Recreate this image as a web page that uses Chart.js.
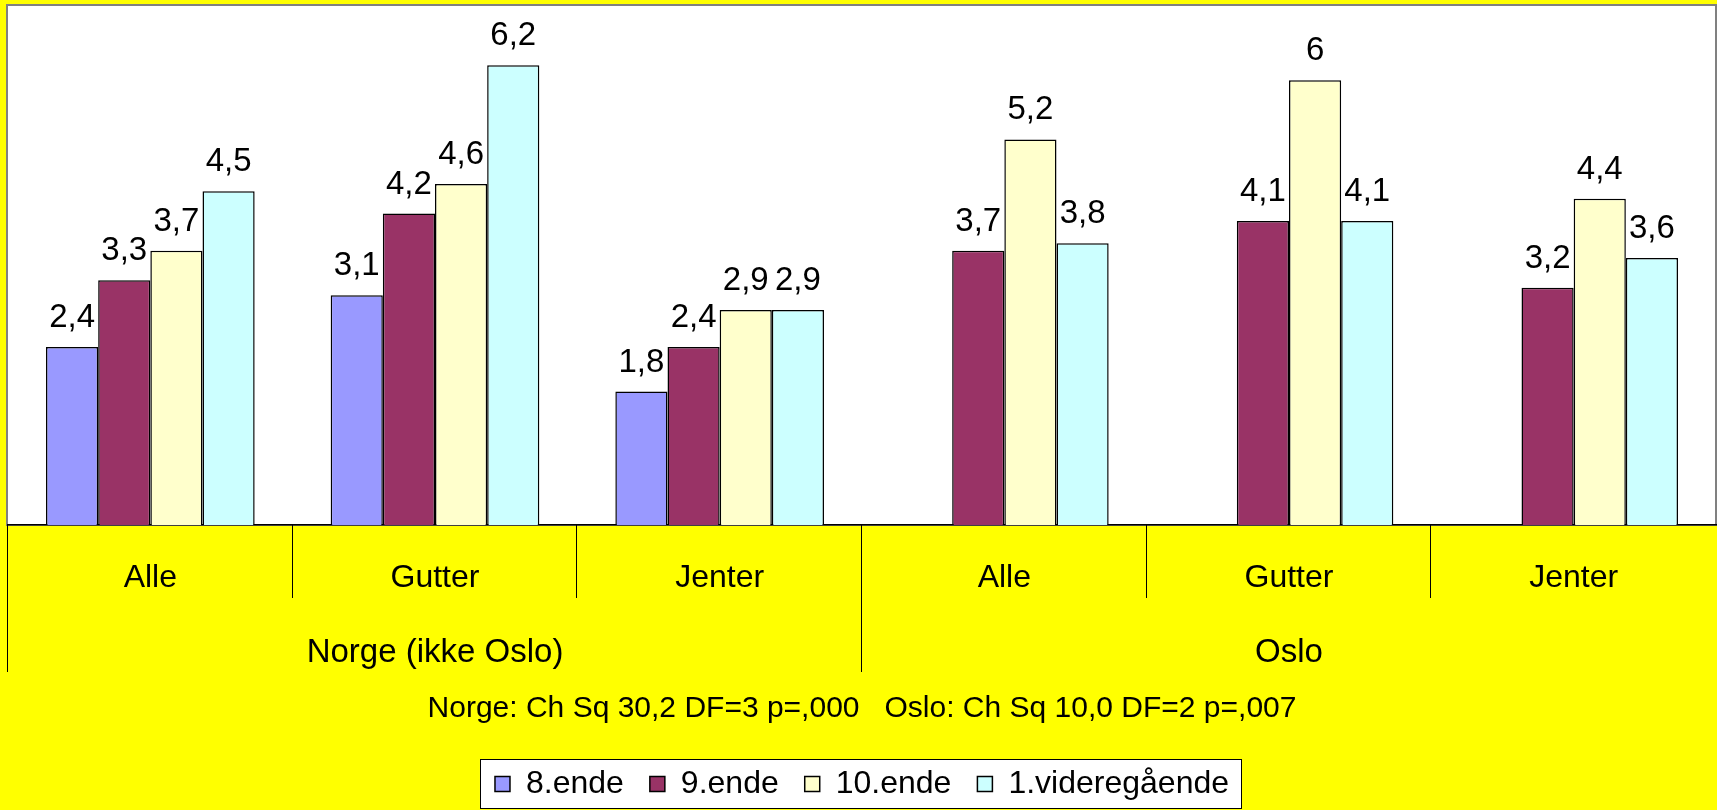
<!DOCTYPE html>
<html>
<head>
<meta charset="utf-8">
<script src="https://cdn.jsdelivr.net/npm/chart.js@4.4.1/dist/chart.umd.min.js"></script>
<style>
  html, body { margin: 0; padding: 0; background: #ffff00; }
  canvas { display: block; }
</style>
</head>
<body>
<canvas id="chart" width="1717" height="810"></canvas>
<script>
// Chart data
const categories = ['Alle', 'Gutter', 'Jenter', 'Alle', 'Gutter', 'Jenter'];
const groups = ['Norge (ikke Oslo)', 'Oslo'];
const seriesNames = ['8.ende', '9.ende', '10.ende', '1.videregående'];
const ende8 = [2.4, 3.1, 1.8, null, null, null];
const ende9 = [3.3, 4.2, 2.4, 3.7, 4.1, 3.2];
const ende10 = [3.7, 4.6, 2.9, 5.2, 6, 4.4];
const vgs1 = [4.5, 6.2, 2.9, 3.8, 4.1, 3.6];
const subtitleText = 'Norge: Ch Sq 30,2 DF=3 p=,000   Oslo: Ch Sq 10,0 DF=2 p=,007';

const colors = ['#9999ff', '#993366', '#ffffcc', '#ccffff'];
const FONT = '"Liberation Sans", Arial, sans-serif';

/**
 * Format a value with a decimal comma
 */
function formatValue(v) {
    return String(v).replace('.', ',');
}

// Backgrounds: yellow page, white plot area, white legend box
const backgroundPlugin = {
    id: 'backgrounds',
    beforeDraw(chart) {
        const ctx = chart.ctx;
        const a = chart.chartArea;
        ctx.save();
        ctx.fillStyle = '#ffff00';
        ctx.fillRect(0, 0, chart.width, chart.height);
        ctx.fillStyle = '#ffffff';
        ctx.fillRect(a.left, a.top, a.right - a.left, a.bottom - a.top);
        ctx.strokeStyle = '#808080';
        ctx.lineWidth = 2;
        ctx.strokeRect(a.left - 1, a.top - 1, a.right - a.left + 1, a.bottom - a.top + 1);

        // legend frame around the legend items
        const boxes = chart.legend && chart.legend.legendHitBoxes;
        if (boxes && boxes.length) {
            const left = Math.min(...boxes.map(b => b.left)) - 15;
            const right = Math.max(...boxes.map(b => b.left + b.width)) + 12;
            const top = boxes[0].top - 9;
            ctx.fillStyle = '#ffffff';
            ctx.fillRect(left, top, right - left, 808 - top);
            ctx.strokeStyle = '#000000';
            ctx.lineWidth = 1;
            ctx.strokeRect(Math.round(left) + 0.5, Math.round(top) + 0.5, Math.round(right - left), Math.round(808 - top));
        }
        ctx.restore();
    }
};

// Category and group separator lines below the plot
const separatorPlugin = {
    id: 'separators',
    afterDraw(chart) {
        const ctx = chart.ctx;
        const x = chart.scales.x;
        const x2 = chart.scales.x2;
        ctx.save();
        ctx.strokeStyle = '#000000';
        ctx.lineWidth = 1;
        ctx.beginPath();
        const step = x.getPixelForValue(1) - x.getPixelForValue(0);
        for (let i = 1; i < categories.length; i++) {
            const px = Math.round(x.getPixelForValue(i) - step / 2) - 0.5;
            ctx.moveTo(px, x.top);
            ctx.lineTo(px, x.top + 73);
        }
        const step2 = x2.getPixelForValue(1) - x2.getPixelForValue(0);
        for (let i = 0; i < groups.length; i++) {
            const px = Math.round(x2.getPixelForValue(i) - step2 / 2) - 0.5;
            ctx.moveTo(px, x.top);
            ctx.lineTo(px, x.top + 147);
        }
        ctx.stroke();
        ctx.restore();
    }
};

// Value labels above each bar
const valueLabelPlugin = {
    id: 'valueLabels',
    afterDatasetsDraw(chart) {
        const ctx = chart.ctx;
        ctx.save();
        ctx.font = '33px ' + FONT;
        ctx.fillStyle = '#000000';
        ctx.textAlign = 'center';
        ctx.textBaseline = 'alphabetic';
        chart.data.datasets.forEach((ds, i) => {
            const meta = chart.getDatasetMeta(i);
            meta.data.forEach((bar, j) => {
                const v = ds.data[j];
                if (v === null || v === undefined) return;
                ctx.fillText(formatValue(v), bar.x, bar.y - 20);
            });
        });
        ctx.restore();
    }
};

const seriesData = [ende8, ende9, ende10, vgs1];

const ctx = document.getElementById('chart').getContext('2d');
new Chart(ctx, {
    type: 'bar',
    data: {
        labels: categories,
        datasets: seriesNames.map((name, i) => ({
            label: name,
            data: seriesData[i],
            backgroundColor: colors[i],
            borderColor: '#000000',
            borderWidth: 1.5,
            categoryPercentage: 0.733,
            barPercentage: 1
        }))
    },
    options: {
        responsive: false,
        animation: false,
        layout: {
            padding: { left: 8, right: 1, top: 6, bottom: 0 }
        },
        scales: {
            y: {
                display: false,
                min: 0,
                max: 7
            },
            x: {
                position: 'bottom',
                weight: 0,
                offset: true,
                border: { display: true, color: '#000000', width: 1.5 },
                grid: { display: false, drawTicks: false },
                ticks: {
                    color: '#000000',
                    font: { family: FONT, size: 32 },
                    padding: 34.3,
                    maxRotation: 0,
                    autoSkip: false
                }
            },
            x2: {
                type: 'category',
                labels: groups,
                position: 'bottom',
                weight: 1,
                offset: true,
                border: { display: false },
                grid: { display: false, drawTicks: false },
                ticks: {
                    color: '#000000',
                    font: { family: FONT, size: 33 },
                    padding: 1.2,
                    maxRotation: 0,
                    autoSkip: false
                }
            }
        },
        plugins: {
            tooltip: { enabled: false },
            title: { display: false },
            subtitle: {
                display: true,
                text: subtitleText,
                position: 'bottom',
                weight: 500,
                color: '#000000',
                font: { family: FONT, size: 30, weight: 'normal' },
                padding: { top: 17, bottom: 15 }
            },
            legend: {
                display: true,
                position: 'bottom',
                weight: 1000,
                labels: {
                    color: '#000000',
                    font: { family: FONT, size: 32 },
                    boxWidth: 15,
                    boxHeight: 15,
                    padding: 26
                }
            }
        }
    },
    plugins: [backgroundPlugin, separatorPlugin, valueLabelPlugin]
});
</script>
</body>
</html>
